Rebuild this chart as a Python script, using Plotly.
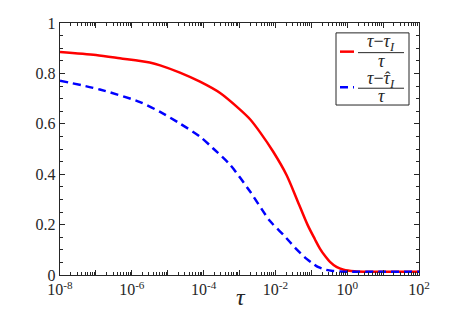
import plotly.graph_objects as go

# Data (x given as log10(tau))
red_logtau = [-8, -7, -6.33, -5.5, -5.21, -4.66, -4.1, -3.54, -3.0, -2.7, -2.43, -2.06,
              -1.69, -1.4, -1.1, -0.9, -0.76, -0.6, -0.48, -0.3, -0.1, 0.2, 0.6, 1, 2]
red_vals = [0.885, 0.873, 0.860, 0.843, 0.832, 0.803, 0.767, 0.722, 0.658, 0.617, 0.567, 0.489,
            0.397, 0.300, 0.198, 0.142, 0.105, 0.072, 0.052, 0.032, 0.021, 0.015, 0.013, 0.013, 0.013]

blue_logtau = [-8, -6.89, -5.77, -5.21, -4.66, -4.1, -3.74, -3.26, -2.71, -2.15, -1.78,
               -1.59, -1.45, -1.13, -0.95, -0.8, -0.6, -0.4, -0.2, 0, 1, 2]
blue_vals = [0.771, 0.736, 0.686, 0.647, 0.601, 0.549, 0.503, 0.437, 0.332, 0.214, 0.160,
             0.130, 0.108, 0.064, 0.045, 0.031, 0.021, 0.016, 0.014, 0.013, 0.013, 0.013]

x_tick_exps = list(range(-8, 3))
x_tick_text = ["10<sup>%d</sup>" % e if e % 2 == 0 else "" for e in x_tick_exps]
y_tick_vals = [0, 0.2, 0.4, 0.6, 0.8, 1]
y_tick_text = ["0", "0.2", "0.4", "0.6", "0.8", "1"]

red_x = [10 ** e for e in red_logtau]
blue_x = [10 ** e for e in blue_logtau]

FONT = "Liberation Serif, Times New Roman, DejaVu Serif, serif"
AX = "#262626"

fig = go.Figure()
fig.add_trace(go.Scatter(x=red_x, y=red_vals, mode="lines", hoverinfo="skip",
                         line=dict(color="#ff0000", width=2.5, shape="spline", smoothing=0.8),
                         showlegend=False))
fig.add_trace(go.Scatter(x=blue_x, y=blue_vals, mode="lines", hoverinfo="skip",
                         line=dict(color="#0000ff", width=2.5, dash="8px,5px",
                                   shape="spline", smoothing=0.8),
                         showlegend=False))

L, R, T, B = 60, 419, 23, 278
W, H = 463, 310


def px(x):
    return (x - L) / (R - L)


def py(y):
    return (B - y) / (B - T)


fig.update_layout(
    width=W, height=H,
    margin=dict(l=L, r=W - R, t=T, b=H - B),
    paper_bgcolor="white", plot_bgcolor="white",
    font=dict(family=FONT, size=16, color=AX),
    xaxis=dict(type="log", range=[-8, 2], tickmode="array",
               tickvals=[10 ** e for e in x_tick_exps], ticktext=x_tick_text,
               ticks="inside", ticklen=5, tickcolor=AX, tickwidth=1,
               minor=dict(ticks="inside", ticklen=3, dtick="D1", tickcolor=AX, showgrid=False),
               showline=True, linecolor=AX, linewidth=1.2, mirror="ticks",
               showgrid=False, zeroline=False, tickfont=dict(family=FONT, size=16, color=AX)),
    yaxis=dict(range=[0, 1], tickmode="array", tickvals=y_tick_vals, ticktext=y_tick_text,
               ticks="inside", ticklen=5, tickcolor=AX, tickwidth=1,
               minor=dict(ticks="inside", ticklen=3, dtick=0.05, tickcolor=AX, showgrid=False),
               showline=True, linecolor=AX, linewidth=1.2, mirror="ticks",
               showgrid=False, zeroline=False, tickfont=dict(family=FONT, size=16, color=AX)),
)

# x-axis label
fig.add_annotation(x=px(241), y=py(300), xref="paper", yref="paper", text="<i>τ</i>",
                   showarrow=False, font=dict(family=FONT, size=24, color=AX),
                   xanchor="center", yanchor="middle")

# Legend box
fig.add_shape(type="rect", xref="paper", yref="paper", x0=px(336), x1=px(409),
              y0=py(106), y1=py(33), line=dict(color=AX, width=1), fillcolor="white")
fig.add_shape(type="line", xref="paper", yref="paper", x0=px(340), x1=px(354),
              y0=py(52), y1=py(52), line=dict(color="#ff0000", width=2.5))
fig.add_shape(type="line", xref="paper", yref="paper", x0=px(340), x1=px(354),
              y0=py(88), y1=py(88), line=dict(color="#0000ff", width=2.5, dash="8px,5px"))
for ybar in (53, 89):
    fig.add_shape(type="line", xref="paper", yref="paper", x0=px(358), x1=px(404),
                  y0=py(ybar), y1=py(ybar), line=dict(color=AX, width=1))

leg_font = dict(family=FONT, size=18, color=AX)
fig.add_annotation(x=px(381), y=py(43), xref="paper", yref="paper",
                   text="<i>τ</i>−<i>τ</i><sub><i>I</i></sub>", showarrow=False,
                   font=leg_font, xanchor="center", yanchor="middle")
fig.add_annotation(x=px(381), y=py(61), xref="paper", yref="paper",
                   text="<i>τ</i>", showarrow=False,
                   font=leg_font, xanchor="center", yanchor="middle")
fig.add_annotation(x=px(381), y=py(80), xref="paper", yref="paper",
                   text="<i>τ</i>−<i>τ</i><sub><i>I</i></sub>", showarrow=False,
                   font=leg_font, xanchor="center", yanchor="middle")
# hat over the second tau of the blue label
fig.add_annotation(x=px(388), y=py(78), xref="paper", yref="paper",
                   text="ˆ", showarrow=False,
                   font=dict(family=FONT, size=16, color=AX), xanchor="center", yanchor="middle")
fig.add_annotation(x=px(381), y=py(97), xref="paper", yref="paper",
                   text="<i>τ</i>", showarrow=False,
                   font=leg_font, xanchor="center", yanchor="middle")

fig.write_html("out.html", config={"displayModeBar": False, "staticPlot": True},
               post_script="document.body.style.margin='0';")
